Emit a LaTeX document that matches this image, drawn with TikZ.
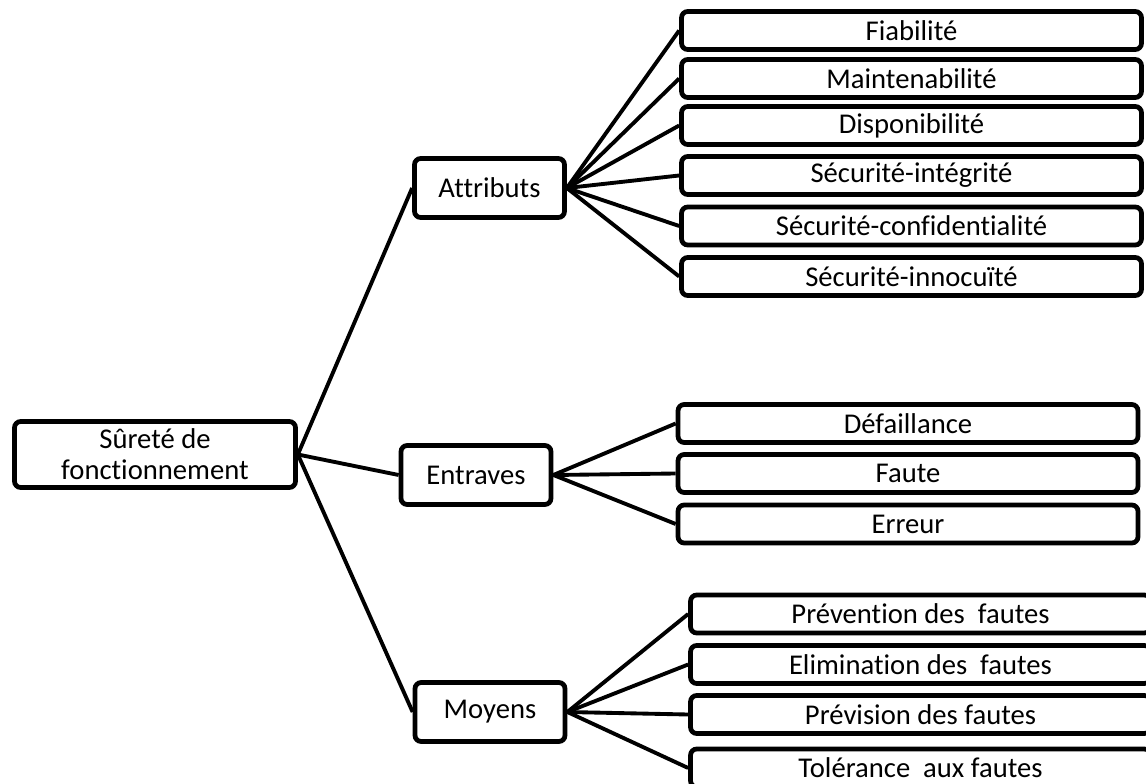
\documentclass[tikz,border=0pt]{standalone}
\usepackage{fontspec}
\setmainfont{Carlito}[Ligatures=NoCommon]
\usepackage{tikz}

\begin{document}
\begin{tikzpicture}[x=0.02cm,y=-0.02cm,
	box/.style={draw,rounded corners=3.5pt,line width=2.7pt,inner sep=0pt,align=center,font=\fontsize{16.3}{17.5}\selectfont},
	mid/.style={box,minimum width=3.0cm,minimum height=1.18cm},
	leaf/.style={box,minimum width=9.2cm,minimum height=0.76cm},
	link/.style={line width=2.2pt}]
	\useasboundingbox (0,0) rectangle (1146,784);
	\clip (0,0) rectangle (1146,784);
	% racine et branches
	\node[box,minimum width=5.62cm,minimum height=1.32cm] (surete) at (155,454.5) {Sûreté de\\fonctionnement};
	\node[mid] (attr) at (489.5,188) {Attributs};
	\node[mid] (entr) at (476,475) {Entraves};
	\node[mid] (moy) at (490,712) {Moyens};
	% attributs
	\node[leaf] (fiab) at (911.5,30.5) {Fiabilité};
	\node[leaf] (maint) at (911.5,78.5) {Maintenabilité};
	\node[leaf] (dispo) at (911.5,125.5) {Disponibilité};
	\node[leaf] (integ) at (911.5,175.5) {Sécurité-intégrité};
	\node[leaf] (confid) at (911.5,226) {Sécurité-confidentialité};
	\node[leaf] (innoc) at (911.5,276.5) {Sécurité-innocuïté};
	% entraves
	\node[leaf] (defail) at (908,423.5) {Défaillance};
	\node[leaf] (faute) at (908,473.5) {Faute};
	\node[leaf] (erreur) at (908,524) {Erreur};
	% moyens
	\node[leaf] (prevent) at (920.5,614) {Prévention des~ fautes};
	\node[leaf] (elim) at (920.5,664.5) {Elimination des~ fautes};
	\node[leaf] (previs) at (920.5,714.5) {Prévision des fautes};
	\node[leaf] (toler) at (920.5,768) {Tolérance~ aux fautes};

	\draw[link] (surete.east) -- (attr.west);
	\draw[link] (surete.east) -- (entr.west);
	\draw[link] (surete.east) -- (moy.west);
	\draw[link] (attr.east) -- (fiab.west);
	\draw[link] (attr.east) -- (maint.west);
	\draw[link] (attr.east) -- (dispo.west);
	\draw[link] (attr.east) -- (integ.west);
	\draw[link] (attr.east) -- (confid.west);
	\draw[link] (attr.east) -- (innoc.west);
	\draw[link] (entr.east) -- (defail.west);
	\draw[link] (entr.east) -- (faute.west);
	\draw[link] (entr.east) -- (erreur.west);
	\draw[link] (moy.east) -- (prevent.west);
	\draw[link] (moy.east) -- (elim.west);
	\draw[link] (moy.east) -- (previs.west);
	\draw[link] (moy.east) -- (toler.west);
\end{tikzpicture}
\end{document}
